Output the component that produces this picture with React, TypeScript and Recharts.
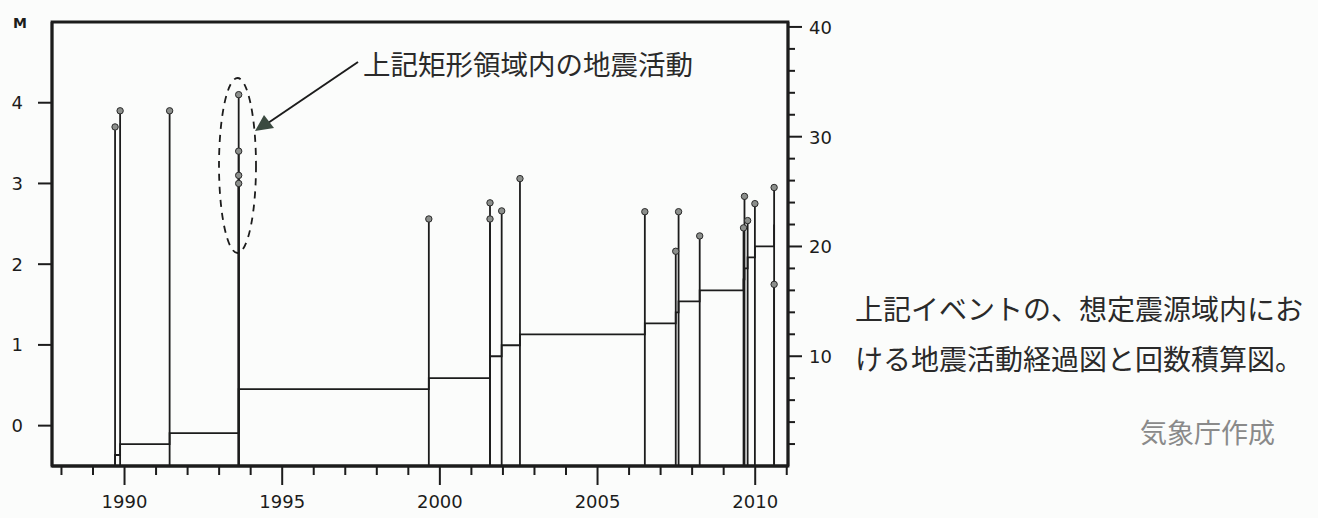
import React from 'react';
import {
	ComposedChart,
	Line,
	Scatter,
	XAxis,
	YAxis,
	ReferenceLine,
	ReferenceArea,
} from 'recharts';

// event times (decimal year) and magnitudes, in time order
const EVENT_T = [
	1989.7, 1989.86, 1991.43, 1993.62, 1993.62, 1993.62, 1993.62, 1999.65, 2001.59, 2001.59, 2001.96,
	2002.54, 2006.5, 2007.48, 2007.57, 2008.24, 2009.63, 2009.66, 2009.76, 2009.99, 2010.6, 2010.6,
];
const EVENT_M = [
	3.7, 3.9, 3.9, 4.1, 3.4, 3.1, 3.0, 2.56, 2.76, 2.56, 2.66, 3.06, 2.65, 2.16, 2.65, 2.35, 2.45, 2.84,
	2.54, 2.75, 1.75, 2.95,
];
// cumulative number of events (right axis)
const COUNT = [1, 2, 3, 4, 5, 6, 7, 8, 9, 10, 11, 12, 13, 14, 15, 16, 17, 18, 19, 20, 21, 22];

const YEAR_TICKS = [
	1988, 1989, 1990, 1991, 1992, 1993, 1994, 1995, 1996, 1997, 1998, 1999, 2000, 2001, 2002, 2003, 2004,
	2005, 2006, 2007, 2008, 2009, 2010, 2011,
];
const M_TICKS = [0, 1, 2, 3, 4];
const N_TICKS = [2, 4, 6, 8, 10, 12, 14, 16, 18, 20, 22, 24, 26, 28, 30, 32, 34, 36, 38, 40];

const X_DOMAIN = [1987.7, 2011.04];
const M_DOMAIN = [-0.5, 5.0];
const N_DOMAIN = [0, 40.45];

const INK = '#1c1c1c';
const NUM_FONT = '"DejaVu Sans", sans-serif';
const JP_FONT = '"Noto Sans CJK JP", sans-serif';

const quakes = EVENT_T.map((t, i) => ({ t, m: EVENT_M[i] }));
const steps = [{ t: EVENT_T[0], n: 0 }, ...EVENT_T.map((t, i) => ({ t, n: COUNT[i] }))];

const YearTick = (props: any) => {
	const { x, y, payload } = props;
	const major = payload.value % 5 === 0;
	return (
		<g>
			<line x1={x} y1={y} x2={x} y2={y + (major ? 19 : 9)} stroke={INK} strokeWidth={2} />
			{major && (
				<text x={x} y={y + 42} textAnchor="middle" fontSize={18} fontFamily={NUM_FONT} fill={INK}>
					{payload.value}
				</text>
			)}
		</g>
	);
};

const CountTick = (props: any) => {
	const { x, y, payload } = props;
	const major = payload.value % 10 === 0;
	return (
		<g>
			<line x1={x} y1={y} x2={x + (major ? 14 : 7)} y2={y} stroke={INK} strokeWidth={2} />
			{major && (
				<text x={x + 21} y={y + 7} textAnchor="start" fontSize={18} fontFamily={NUM_FONT} fill={INK}>
					{payload.value}
				</text>
			)}
		</g>
	);
};

const Pin = (props: any) => {
	const { cx, cy } = props;
	return <circle cx={cx} cy={cy} r={3.2} fill="#8c8f8c" stroke="#2a2a2a" strokeWidth={1} />;
};

export default function App() {
	return (
		<div
			style={{
				position: 'absolute',
				left: 0,
				top: 0,
				width: 1318,
				height: 518,
				background: '#fbfcfb',
				overflow: 'hidden',
			}}
		>
			<ComposedChart
				width={860}
				height={518}
				margin={{ top: 22, right: 12, bottom: 12, left: 0 }}
			>
				<XAxis
					dataKey="t"
					type="number"
					domain={X_DOMAIN}
					allowDataOverflow
					ticks={YEAR_TICKS}
					interval={0}
					tickSize={0}
					tickMargin={0}
					tick={<YearTick />}
					height={40}
					axisLine={{ stroke: INK, strokeWidth: 2.8 }}
				/>
				<YAxis
					yAxisId="m"
					type="number"
					domain={M_DOMAIN}
					allowDataOverflow
					ticks={M_TICKS}
					interval={0}
					width={52}
					tickSize={14}
					tickMargin={15}
					tickLine={{ stroke: INK, strokeWidth: 2 }}
					tick={{ fontSize: 18, fontFamily: NUM_FONT, fill: INK }}
					axisLine={{ stroke: INK, strokeWidth: 2.8 }}
				/>
				<YAxis
					yAxisId="n"
					orientation="right"
					type="number"
					domain={N_DOMAIN}
					allowDataOverflow
					ticks={N_TICKS}
					interval={0}
					width={60}
					tickSize={0}
					tickMargin={0}
					tick={<CountTick />}
					axisLine={{ stroke: INK, strokeWidth: 2.8 }}
				/>
				<ReferenceArea
					yAxisId="m"
					x1={X_DOMAIN[0]}
					x2={X_DOMAIN[1]}
					y1={M_DOMAIN[0]}
					y2={M_DOMAIN[1]}
					fill="none"
					stroke={INK}
					strokeWidth={2.8}
					ifOverflow="visible"
				/>
				{quakes.map((q, i) => (
					<ReferenceLine
						key={`q-${i}`}
						yAxisId="m"
						segment={[
							{ x: q.t, y: M_DOMAIN[0] },
							{ x: q.t, y: q.m },
						]}
						stroke={INK}
						strokeWidth={1.8}
						ifOverflow="visible"
					/>
				))}
				<Line
					yAxisId="n"
					data={steps}
					dataKey="n"
					type="stepAfter"
					stroke={INK}
					strokeWidth={1.8}
					dot={false}
					isAnimationActive={false}
				/>
				<Scatter
					yAxisId="m"
					data={quakes}
					dataKey="m"
					shape={<Pin />}
					isAnimationActive={false}
				/>
			</ComposedChart>

			<svg
				width={1318}
				height={518}
				style={{ position: 'absolute', left: 0, top: 0, pointerEvents: 'none' }}
			>
				<text x={13} y={28} fontSize={14} fontWeight="bold" fontFamily={NUM_FONT} fill={INK}>
					M
				</text>
				<ellipse
					cx={237.5}
					cy={165.5}
					rx={18.5}
					ry={87.5}
					fill="none"
					stroke={INK}
					strokeWidth={1.8}
					strokeDasharray="7 6"
				/>
				<line x1={358} y1={62} x2={268} y2={123} stroke={INK} strokeWidth={2} />
				<polygon points="255,131 264,115 274,128" fill="#3b4a40" />
				<text x={363} y={75} fontSize={27.5} fontFamily={JP_FONT} fill="#2a2a2a">
					上記矩形領域内の地震活動
				</text>
				<text x={855} y={320} fontSize={28} fontFamily={JP_FONT} fill="#2a2a2a">
					上記イベントの、想定震源域内にお
				</text>
				<text x={855} y={370} fontSize={28} fontFamily={JP_FONT} fill="#2a2a2a">
					ける地震活動経過図と回数積算図。
				</text>
				<text x={1140} y={443} fontSize={27} fontFamily={JP_FONT} fill="#8a8a8a">
					気象庁作成
				</text>
			</svg>
		</div>
	);
}
